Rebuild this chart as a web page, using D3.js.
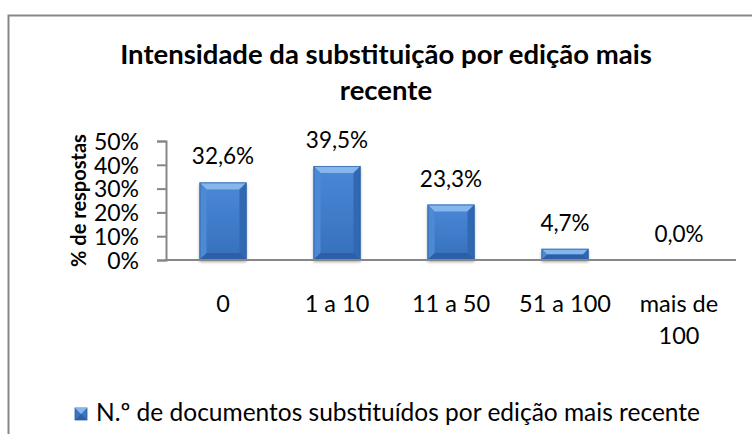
<!DOCTYPE html>
<html>

<head>
    <meta charset="utf-8">
    <script src="https://d3js.org/d3.v7.min.js"></script>
    <style>
        body { margin: 0; background: #fff; }
        svg { font-family: Lato, "Open Sans", sans-serif; }
    </style>
</head>

<body>
    <script>
        // data
        const categories = ['0', '1 a 10', '11 a 50', '51 a 100', 'mais de 100'];
        const values = [0.326, 0.395, 0.233, 0.047, 0.0];
        const valueLabels = ['32,6%', '39,5%', '23,3%', '4,7%', '0,0%'];
        const yTicks = [0, 0.1, 0.2, 0.3, 0.4, 0.5];
        const titleLines = ['Intensidade da substituição por edição mais', 'recente'];
        const yTitle = '% de respostas';
        const seriesName = 'N.º de documentos substituídos por edição mais recente';

        const width = 752, height = 434;
        const plot = { left: 166, right: 736, top: 141, bottom: 260 };

        const svg = d3.select("body").append("svg")
            .attr("width", width)
            .attr("height", height);

        const defs = svg.append("defs");

        // gradient for the bar face
        const grad = defs.append("linearGradient")
            .attr("id", "face")
            .attr("x1", 0).attr("y1", 0).attr("x2", 0).attr("y2", 1);
        grad.append("stop").attr("offset", "0%").attr("stop-color", "#4a88d6");
        grad.append("stop").attr("offset", "100%").attr("stop-color", "#3670bd");

        const shadow = defs.append("filter")
            .attr("id", "shadow")
            .attr("x", "-30%").attr("y", "-30%").attr("width", "160%").attr("height", "160%");
        shadow.append("feDropShadow")
            .attr("dx", 0).attr("dy", 2)
            .attr("stdDeviation", 1.8)
            .attr("flood-color", "#000")
            .attr("flood-opacity", 0.35);

        // outer chart border
        svg.append("rect")
            .attr("x", 8.5).attr("y", 15.5)
            .attr("width", 800).attr("height", 500)
            .attr("fill", "none")
            .attr("stroke", "#878787")
            .attr("stroke-width", 2);

        // title
        svg.append("text")
            .attr("text-anchor", "middle")
            .attr("font-weight", "bold")
            .attr("font-size", 27.5)
            .attr("fill", "#000")
            .selectAll("tspan")
            .data(titleLines)
            .enter().append("tspan")
            .attr("x", 386)
            .attr("y", (d, i) => 64 + i * 36)
            .text(d => d);

        // scales
        const x = d3.scaleBand()
            .domain(categories)
            .range([plot.left, plot.right])
            .paddingInner(0.588)
            .paddingOuter(0.294);

        const y = d3.scaleLinear()
            .domain([0, 0.5])
            .range([plot.bottom, plot.top]);

        // y axis
        const yAxis = svg.append("g")
            .attr("transform", `translate(${plot.left},0)`)
            .call(d3.axisLeft(y).tickValues(yTicks).tickFormat(d3.format(".0%")).tickSize(9).tickPadding(18));
        yAxis.select(".domain").attr("stroke", "#878787").attr("stroke-width", 2);
        yAxis.selectAll(".tick line").attr("stroke", "#878787").attr("stroke-width", 2);
        yAxis.selectAll(".tick text")
            .attr("font-family", "Lato, sans-serif")
            .attr("font-size", 23)
            .attr("fill", "#000")
            .attr("dy", "0.36em");

        // bars with a bevel look
        const bars = svg.selectAll("g.bar")
            .data(values)
            .enter().append("g")
            .attr("class", "bar")
            .filter(d => d > 0);

        bars.each(function (d) {
            const g = d3.select(this);
            const i0 = values.indexOf(d);
            const x0 = x(categories[i0]);
            const w = x.bandwidth();
            const y0 = y(d);
            const h = y(0) - y0;
            const b = Math.min(7, h / 2);

            g.append("rect")
                .attr("x", x0).attr("y", y0)
                .attr("width", w).attr("height", h)
                .attr("fill", "url(#face)")
                .attr("filter", "url(#shadow)");

            // top bevel
            g.append("polygon")
                .attr("points", [[x0, y0], [x0 + w, y0], [x0 + w - b, y0 + b], [x0 + b, y0 + b]].join(" "))
                .attr("fill", "#86b6ee");
            // left bevel
            g.append("polygon")
                .attr("points", [[x0, y0], [x0 + b, y0 + b], [x0 + b, y0 + h - b], [x0, y0 + h]].join(" "))
                .attr("fill", "#4d8ad6");
            // right bevel
            g.append("polygon")
                .attr("points", [[x0 + w, y0], [x0 + w, y0 + h], [x0 + w - b, y0 + h - b], [x0 + w - b, y0 + b]].join(" "))
                .attr("fill", "#3168b2");
            // bottom bevel
            g.append("polygon")
                .attr("points", [[x0, y0 + h], [x0 + b, y0 + h - b], [x0 + w - b, y0 + h - b], [x0 + w, y0 + h]].join(" "))
                .attr("fill", "#2c5fa5");
            // thin outline
            g.append("rect")
                .attr("x", x0 + 0.5).attr("y", y0 + 0.5)
                .attr("width", w - 1).attr("height", h - 1)
                .attr("fill", "none")
                .attr("stroke", "#2b5d9e")
                .attr("stroke-width", 1)
                .attr("stroke-opacity", 0.7);
        });

        // x axis line (drawn over the bar feet)
        svg.append("line")
            .attr("x1", plot.left - 1).attr("x2", plot.right)
            .attr("y1", plot.bottom).attr("y2", plot.bottom)
            .attr("stroke", "#878787")
            .attr("stroke-width", 2);

        // value labels
        svg.selectAll("text.value")
            .data(values)
            .enter().append("text")
            .attr("class", "value")
            .attr("x", (d, i) => x(categories[i]) + x.bandwidth() / 2)
            .attr("y", d => y(d) - 18)
            .attr("text-anchor", "middle")
            .attr("font-size", 22.5)
            .attr("fill", "#000")
            .text((d, i) => valueLabels[i]);

        // category labels, wrapped to the band step
        function wrapWords(label, maxWidth, fontSize) {
            const probe = svg.append("text").attr("font-size", fontSize);
            const words = label.split(" ");
            const lines = [];
            let line = [];
            words.forEach(wd => {
                line.push(wd);
                probe.text(line.join(" "));
                if (probe.node().getComputedTextLength() > maxWidth && line.length > 1) {
                    line.pop();
                    lines.push(line.join(" "));
                    line = [wd];
                }
            });
            lines.push(line.join(" "));
            probe.remove();
            return lines;
        }

        const catLabels = svg.selectAll("text.cat")
            .data(categories)
            .enter().append("text")
            .attr("class", "cat")
            .attr("text-anchor", "middle")
            .attr("font-size", 23.5)
            .attr("fill", "#000");

        catLabels.each(function (c) {
            const lines = wrapWords(c, x.step() - 12, 23.5);
            d3.select(this).selectAll("tspan")
                .data(lines)
                .enter().append("tspan")
                .attr("x", x(c) + x.bandwidth() / 2)
                .attr("y", (d, i) => 312 + i * 32)
                .text(d => d);
        });

        // y axis title
        svg.append("text")
            .attr("transform", `translate(86,${(plot.top + plot.bottom) / 2}) rotate(-90)`)
            .attr("text-anchor", "middle")
            .attr("font-weight", "bold")
            .attr("font-size", 20)
            .attr("fill", "#000")
            .text(yTitle);

        // legend
        const legend = svg.append("g").attr("transform", "translate(75,408)");
        legend.append("rect")
            .attr("width", 12).attr("height", 12)
            .attr("fill", "#3a75c2")
            .attr("stroke", "#2b5d9e")
            .attr("stroke-width", 0.8);
        legend.append("polygon")
            .attr("points", "0,0 12,0 6,6")
            .attr("fill", "#86b6ee");
        legend.append("polygon")
            .attr("points", "0,12 12,12 6,6")
            .attr("fill", "#2c5fa5");
        legend.append("text")
            .attr("x", 21)
            .attr("y", 13)
            .attr("font-size", 24.5)
            .attr("fill", "#000")
            .text(seriesName);
    </script>
</body>

</html>
